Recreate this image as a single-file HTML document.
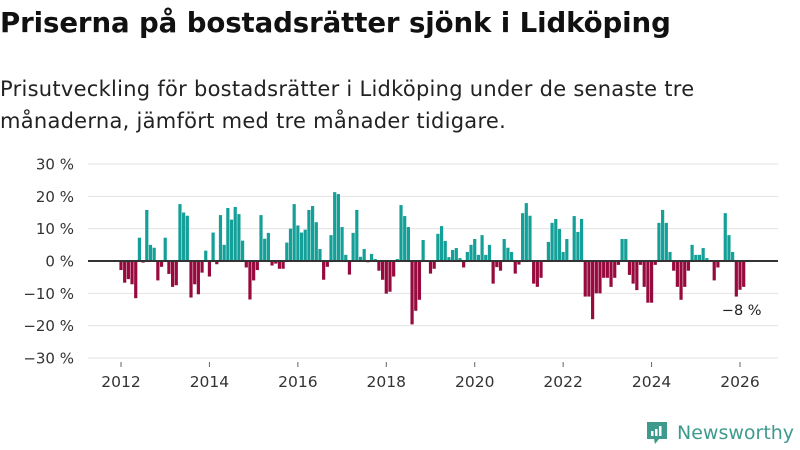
<!DOCTYPE html>
<html><head><meta charset="utf-8">
<style>
html,body{margin:0;padding:0;background:#fff;}
body{width:800px;height:450px;overflow:hidden;position:relative;font-family:"DejaVu Sans","Liberation Sans",sans-serif;color:#111;}
#title{position:absolute;left:0;top:6px;font-size:27.6px;font-weight:bold;letter-spacing:-0.1px;white-space:nowrap;}
#subtitle{position:absolute;left:0;top:73px;font-size:21px;line-height:32px;color:#222;white-space:nowrap;letter-spacing:0.27px;}
svg{position:absolute;left:0;top:0;}
</style></head><body>
<div id="title">Priserna på bostadsrätter sjönk i Lidköping</div>
<div id="subtitle">Prisutveckling för bostadsrätter i Lidköping under de senaste tre<br>månaderna, jämfört med tre månader tidigare.</div>
<svg id="chart" width="800" height="450"></svg>
<script>
const startYear = 2012;
const values = [
-2.8,-6.7,-5.6,-7.2,-11.5,7.2,-0.5,15.8,5,4.1,-6,-1.8,7.2,-4,-8,-7.5,17.6,15,14,-11.3,-7.2,-10.3,-3.6,3.2,-4.8,8.8,-1,14.2,5,16.4,12.8,16.7,14.5,6.3,-2,-11.9,-6,-2.8,14.2,6.9,8.7,
-1.4,-0.8,-2.4,-2.4,5.7,10,17.6,11,8.8,9.7,15.8,17,12,3.7,-5.8,-1.8,8,21.3,20.7,10.5,1.9,-4.2,8.7,15.8,1.3,3.7,-0.4,2.2,0.6,-3,-5.8,-10.1,-9.5,-4.8,0.6,17.3,13.9,10.5,-19.6,-15.4,-12,6.5,0,-3.9,-2.4,
8.4,10.8,6.2,1.2,3.4,4,0.9,-2,2.8,5,6.8,1.9,8,1.9,5,-7,-1.9,-3,6.8,4.1,2.8,-3.9,-1.1,14.8,17.9,14,-7,-8,-5.2,0,5.9,11.8,13,9.9,2.8,6.8,0,13.9,9,13,-11,-11,-18,-10,
-10,-5.2,-5.2,-8,-5.2,-1.2,6.8,6.8,-4.3,-7,-9,-1.2,-8,-12.9,-12.9,-1.2,11.8,15.8,11.8,2.8,-3,-8,-12,-8,-3,5,1.9,1.9,4,0.9,0,-6,-2,0,14.8,8,2.8,-11,-8.9,-8
];
const yTicks = [30,20,10,0,-10,-20,-30];
const xTicks = [2012,2014,2016,2018,2020,2022,2024,2026];
const lastLabel = "−8 %";

const svg = document.getElementById('chart');
const NS = 'http://www.w3.org/2000/svg';
const FONT = 'DejaVu Sans, Liberation Sans, sans-serif';
const y = v => 261 - v * 3.233;
const x = yr => 121 + (yr - 2012) * (619 / 14);
function mk(tag, attrs){const e=document.createElementNS(NS,tag);for(const k in attrs)e.setAttribute(k,attrs[k]);svg.appendChild(e);return e;}

yTicks.forEach(t=>{
  const g = mk('line',{x1:88,x2:778,y1:y(t),y2:y(t),stroke:'#e3e3e3','stroke-width':1});
  
  
  const tx = mk('text',{x:74,y:y(t)+5.5,'text-anchor':'end','font-size':15,fill:'#333','font-family':FONT});
  tx.textContent = (t<0?'−'+(-t):t)+' %';
  
  
});
xTicks.forEach(t=>{
  const l = mk('line',{x1:x(t),x2:x(t),y1:362,y2:367,stroke:'#666','stroke-width':1});
  
  
  const tx = mk('text',{x:x(t),y:387,'text-anchor':'middle','font-size':15.5,fill:'#333','font-family':FONT});
  tx.textContent = t;
  
  
});
values.forEach((v,i)=>{
  const cx = x(startYear + i/12);
  const top = Math.min(y(v), y(0)), h = Math.abs(y(v)-y(0));
  const r = mk('rect',{x:cx-1.6,y:top,width:3.2,height:Math.max(h,0.01),fill:v>=0?'#14a098':'#970a3e'});
  
  
});
const zl = mk('line',{x1:88,x2:778,y1:y(0),y2:y(0),stroke:'#333','stroke-width':2});


const li = values.length-1;
const lbl = mk('text',{x:x(startYear+li/12)-2,y:y(values[li])+28,'text-anchor':'middle','font-size':14.5,fill:'#222','font-family':FONT});
lbl.textContent = lastLabel;


</script>
<div style="position:absolute;left:645px;top:420px;display:flex;align-items:center;">
  <svg width="24" height="26" viewBox="0 0 24 26" style="position:static">
    <path d="M2 2h20v17h-8l-4 5-1-5H2z" fill="#3d9a8c"/>
    <rect x="6" y="11" width="2.5" height="5" fill="#fff"/><rect x="10" y="9" width="2.5" height="7" fill="#fff"/><rect x="14" y="6" width="2.5" height="10" fill="#fff"/>
  </svg>
  <span style="font-size:19px;color:#3d9a8c;margin-left:8px;font-family:'DejaVu Sans',sans-serif;">Newsworthy</span>
</div>
</body></html>
